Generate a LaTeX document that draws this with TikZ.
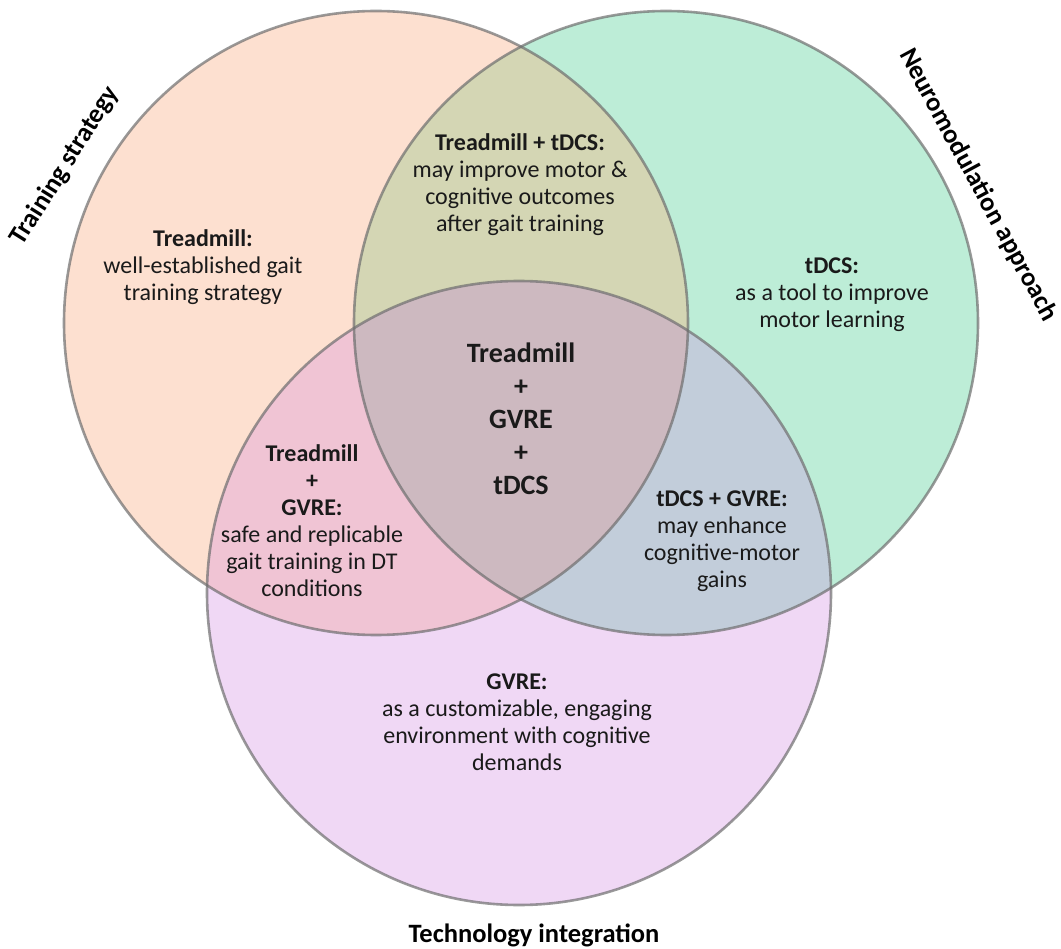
\documentclass[tikz,border=0pt]{standalone}
\usepackage{fontspec}
\setmainfont{Carlito}
\definecolor{cO}{HTML}{FDE0D0}
\definecolor{cG}{HTML}{BDEDD7}
\definecolor{cP}{HTML}{F0D8F5}
\definecolor{cOG}{HTML}{D4D6B4}
\definecolor{cOP}{HTML}{F0C4D4}
\definecolor{cGP}{HTML}{C2CDDA}
\definecolor{cOGP}{HTML}{CDB9C0}
\definecolor{edge}{HTML}{6E6E6E}
\definecolor{txt}{HTML}{1A1A1A}
\begin{document}
\begin{tikzpicture}[x=1pt,y=-1pt,
  ring/.style={draw=edge, draw opacity=0.7, line width=2.6pt},
  body/.style={align=center, text=txt, font=\fontsize{24}{27}\selectfont},
  core/.style={align=center, text=txt, font=\bfseries\fontsize{28}{33}\selectfont},
  lab/.style={text=black, inner sep=1pt, font=\bfseries\fontsize{26.5}{30}\selectfont}]
\useasboundingbox (0,0) rectangle (1061,949);
\coordinate (O) at (376,323);
\coordinate (G) at (666,323);
\coordinate (P) at (519,593);
% base fills
\fill[cO] (O) circle[radius=312pt];
\fill[cG] (G) circle[radius=312pt];
\fill[cP] (P) circle[radius=312pt];
% pairwise overlaps
\begin{scope}\clip (O) circle[radius=312pt]; \fill[cOG] (G) circle[radius=312pt];\end{scope}
\begin{scope}\clip (O) circle[radius=312pt]; \fill[cOP] (P) circle[radius=312pt];\end{scope}
\begin{scope}\clip (G) circle[radius=312pt]; \fill[cGP] (P) circle[radius=312pt];\end{scope}
\begin{scope}\clip (O) circle[radius=312pt]; \clip (G) circle[radius=312pt]; \fill[cOGP] (P) circle[radius=312pt];\end{scope}
% outlines
\draw[ring] (O) circle[radius=312pt];
\draw[ring] (G) circle[radius=312pt];
\draw[ring] (P) circle[radius=312pt];
% region texts
\node[body] (tr) at (203,267) {\textbf{Treadmill:}\\well-established gait\\training strategy};
\node[body] (trt) at (520,185) {\textbf{Treadmill + tDCS:}\\may improve motor \&\\cognitive outcomes\\after gait training};
\node[body] (td) at (832,295) {\textbf{tDCS:}\\as a tool to improve\\motor learning};
\node[core] (all) at (521,419) {Treadmill\\+\\GVRE\\+\\tDCS};
\node[body] (trg) at (312,521) {\textbf{Treadmill}\\\textbf{+}\\\textbf{GVRE:}\\safe and replicable\\gait training in DT\\conditions};
\node[body] (tdg) at (722,541) {\textbf{tDCS + GVRE:}\\may enhance\\cognitive-motor\\gains};
\node[body] (gv) at (517,722) {\textbf{GVRE:}\\as a customizable, engaging\\environment with cognitive\\demands};
% set labels
\node[lab, rotate=58] (ts) at (65,166) {Training strategy};
\node[lab, rotate=-61.6] (na) at (978,185) {Neuromodulation approach};
\node[lab] (ti) at (534,935) {Technology integration};
\end{tikzpicture}
\end{document}
